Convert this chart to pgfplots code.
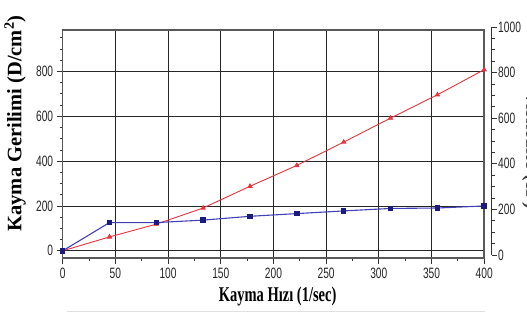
\documentclass[border=0pt]{standalone}
\usepackage{fontspec}
\usepackage{pgfplots}
\pgfplotsset{compat=1.18}
\setmainfont{Liberation Sans}
\newfontfamily\ticksfont[FakeStretch=0.68]{Liberation Sans}
\newfontfamily\labfont[FakeStretch=0.69]{Liberation Serif}
\newfontfamily\ylabfont{Liberation Serif}
\definecolor{redline}{HTML}{E8323C}
\definecolor{blueline}{HTML}{4040B8}
\definecolor{bluemark}{HTML}{1A1A80}
\begin{document}
\begin{tikzpicture}[x=1pt,y=1pt]
\useasboundingbox (0,0) rectangle (527,320);
\begin{axis}[
  at={(62.7pt,62pt)}, anchor=south west,
  scale only axis, width=421.5pt, height=228pt,
  xmin=0, xmax=400, ymin=-32, ymax=985,
  xtick={0,50,...,400}, minor x tick num=1,
  ytick={0,200,...,800},
  minor ytick={50,100,150,250,300,350,450,500,550,650,700,750,850,900,950},
  xtick pos=bottom, ytick pos=left,
  tick align=outside,
  major tick length=6pt, minor tick length=3pt,
  every tick/.style={black!80, line width=0.8pt},
  grid=major,
  major grid style={black!85, line width=0.9pt},
  axis line style={draw=black!65, line width=1.6pt},
  tick label style={font=\ticksfont\fontsize{15}{15}\selectfont, text=black!85},
  /pgf/number format/assume math mode=true,
  /pgf/number format/1000 sep={},
  xlabel={\labfont\bfseries Kayma Hızı (1/sec)},
  xlabel style={font=\fontsize{21}{21}\selectfont, at={(axis description cs:0.51,-0.125)}, anchor=north, inner sep=0pt},
  ylabel={\ylabfont\bfseries Kayma Gerilimi (D/cm\textsuperscript{2})},
  ylabel style={font=\fontsize{20.5}{20.5}\selectfont, at={(axis description cs:-0.113,0.59)}, anchor=center, rotate=0},
]
\addplot[color=redline, line width=0.9pt, mark=triangle*, mark size=2.3pt, mark options={fill=redline, draw=redline}]
  coordinates {(0,0) (44.4,62) (88.9,119) (133.3,191) (177.8,288) (222.2,381) (266.7,485) (311.1,592) (355.6,696) (400,808)};
\addplot[color=blueline, line width=1.1pt, mark=square*, mark size=2.2pt, mark options={fill=bluemark, draw=bluemark}]
  coordinates {(0,0) (44.4,126) (88.9,126) (133.3,137) (177.8,154) (222.2,166) (266.7,178) (311.1,189) (355.6,191) (400,200)};
\end{axis}
\begin{axis}[
  at={(62.7pt,65pt)}, anchor=south west,
  scale only axis, width=429pt, height=228pt,
  xmin=0, xmax=1, ymin=0, ymax=1000,
  axis x line=none, axis y line*=right,
  axis line style={-, draw=black!80, line width=0.8pt},
  ytick={0,200,...,1000}, minor y tick num=3,
  tick align=outside,
  major tick length=5pt, minor tick length=3pt,
  every tick/.style={black!80, line width=0.8pt},
  tick label style={font=\ticksfont\fontsize{15}{15}\selectfont, text=black!85},
  yticklabel style={xshift=-2pt},
  /pgf/number format/assume math mode=true,
  /pgf/number format/1000 sep={},
]
\end{axis}
\node[rotate=-90, anchor=south, inner sep=0pt, font=\ylabfont\bfseries\fontsize{20}{20}\selectfont, text=black!80] at (522,170) {Viskozite (cP)};
\draw[black!12, line width=1pt] (67,8) -- (485,8);
\end{tikzpicture}
\end{document}
